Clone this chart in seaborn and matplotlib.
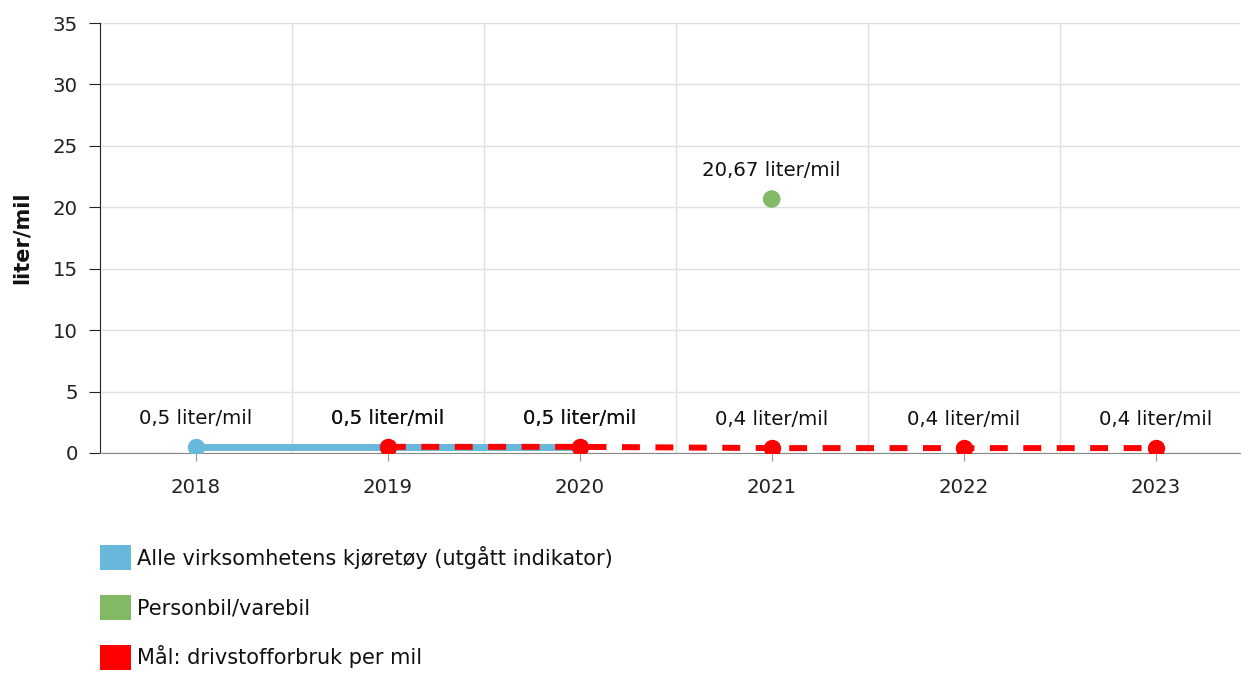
import matplotlib
matplotlib.use("Agg")
import matplotlib.pyplot as plt
import seaborn as sns
import pandas as pd
from matplotlib.patches import Patch

years = ["2018", "2019", "2020", "2021", "2022", "2023"]
alle_years = ["2018", "2019", "2020"]
alle_vals = [0.5, 0.5, 0.5]
person_years = ["2021"]
person_vals = [20.67]
maal_years = ["2019", "2020", "2021", "2022", "2023"]
maal_vals = [0.5, 0.5, 0.4, 0.4, 0.4]

labels = ["Alle virksomhetens kjøretøy (utgått indikator)", "Personbil/varebil", "Mål: drivstofforbruk per mil"]
colors = ["#68b8dc", "#82b964", "#ff0000"]

sns.set_style("white")
plt.rcParams["font.family"] = ["DejaVu Sans"]

pos = {y: i for i, y in enumerate(years)}
df_a = pd.DataFrame({"x": [pos[y] for y in alle_years], "v": alle_vals})
df_p = pd.DataFrame({"x": [pos[y] for y in person_years], "v": person_vals})
df_m = pd.DataFrame({"x": [pos[y] for y in maal_years], "v": maal_vals})

fig = plt.figure(figsize=(12.41, 6.73), dpi=100)
ax = fig.add_axes([100 / 1241, 220 / 673, 1140 / 1241, 430 / 673])

sns.lineplot(data=df_a, x="x", y="v", ax=ax, color=colors[0], linewidth=5.0,
             marker="o", markersize=12.5, markeredgewidth=0, zorder=3)
sns.lineplot(data=df_m, x="x", y="v", ax=ax, color=colors[2], linewidth=4.3,
             marker="o", markersize=12.5, markeredgewidth=0, zorder=4, dashes=False)
ax.lines[-1].set_dashes([3.0, 2.6])
sns.scatterplot(data=df_p, x="x", y="v", ax=ax, color=colors[1], s=160,
                edgecolor="none", zorder=5)

def lab(v):
    return (f"{v:.2f}" if round(v, 1) != v else f"{v:.1f}").replace(".", ",") + " liter/mil"

for df in (df_a, df_m, df_p):
    for x, v in zip(df["x"], df["v"]):
        ax.annotate(lab(v), (x, v), xytext=(0, 13.5), textcoords="offset points",
                    ha="center", va="bottom", fontsize=14.2, color="#111111", zorder=6)

ax.set_xlim(-0.5, 5.44)
ax.set_ylim(0, 35)
ax.set_yticks(range(0, 36, 5))
ax.set_xticks(range(len(years)))
ax.set_xticklabels(years)
ax.set_xticks([i + 0.5 for i in range(5)], minor=True)
ax.grid(False)
ax.grid(True, which="minor", axis="x", color="#e0e0e0", linewidth=1)
ax.grid(True, which="major", axis="y", color="#e0e0e0", linewidth=1)
ax.tick_params(axis="x", which="minor", length=0)
ax.tick_params(axis="x", which="major", length=6, color="#999999", labelsize=14.2,
               pad=12, labelcolor="#222222")
ax.tick_params(axis="y", length=8, color="#222222", labelsize=14.2, direction="out",
               pad=8, labelcolor="#222222")
ax.tick_params(left=True, bottom=True)
for s in ("top", "right"):
    ax.spines[s].set_visible(False)
ax.spines["left"].set_color("#222222")
ax.spines["bottom"].set_color("#888888")
ax.set_xlabel("")
ax.set_ylabel("liter/mil", fontsize=15, fontweight="bold", labelpad=15, color="#111111")

handles = [Patch(facecolor=c, edgecolor="none") for c in colors]
fig.legend(handles, labels, loc="upper left", bbox_to_anchor=(92 / 1241, 1 - 537 / 673),
           frameon=False, fontsize=15, handlelength=1.45, handleheight=1.45,
           handletextpad=0.3, labelspacing=1.2, borderaxespad=0, labelcolor="#111111")

fig.savefig("out.png", dpi=100)
